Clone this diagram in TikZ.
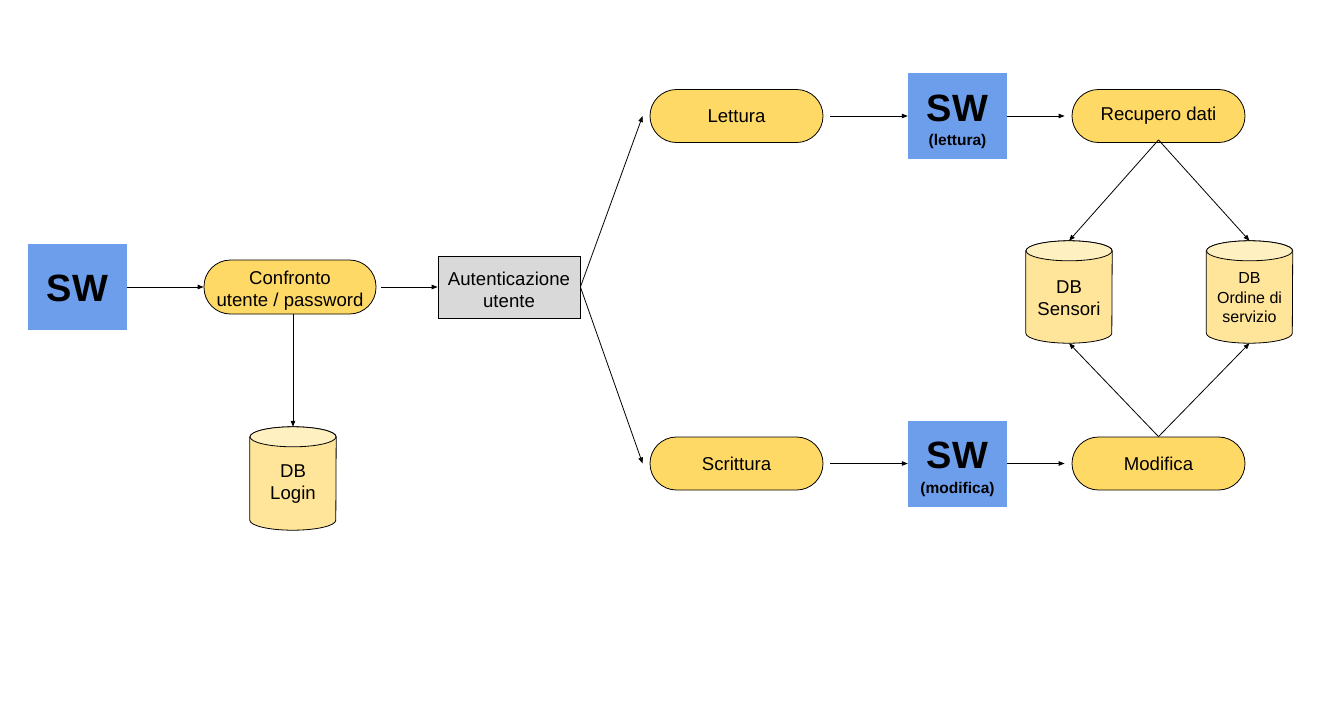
\documentclass[tikz,border=0pt]{standalone}
\usepackage{fontspec}
\setmainfont{Liberation Sans}
\usetikzlibrary{arrows.meta,calc}
\definecolor{pillY}{HTML}{FFD966}
\definecolor{dbY}{HTML}{FFE599}
\definecolor{dbTop}{HTML}{FFF0C2}
\definecolor{swB}{HTML}{6D9EEB}
\definecolor{authG}{HTML}{D9D9D9}
\newcommand\labfont{\fontsize{18.6}{22}\selectfont}
\newcommand\swfont{\fontsize{38}{40}\selectfont\bfseries}
\newcommand\subfont{\fontsize{15.5}{18}\selectfont\bfseries}
\newcommand\ordfont{\fontsize{16}{19.5}\selectfont}
\newcommand\drawcyl[1]{%
  \path[fill=dbY,draw=black,line width=0.8pt] ($(#1.north west)+(0,10)$) -- ($(#1.south west)+(0,-10)$)
    arc[start angle=180,end angle=360,x radius=43pt,y radius=10pt] -- ($(#1.north east)+(0,10)$)
    arc[start angle=0,end angle=180,x radius=43pt,y radius=10pt] -- cycle;
  \path[fill=dbTop,draw=black,line width=0.8pt] ($(#1.north)+(0,10)$) ellipse[x radius=43pt,y radius=10pt];
}
\tikzset{
  pill/.style={draw=black, line width=0.8pt, fill=pillY, rounded corners=26.5pt,
    minimum width=173pt, minimum height=53pt, inner sep=0pt, align=center, font=\labfont},
  authbox/.style={draw=black, line width=0.8pt, fill=authG, minimum width=142pt,
    minimum height=62pt, inner sep=0pt, align=center, font=\labfont},
  swbox/.style={fill=swB, draw=none, minimum width=99pt, minimum height=86pt, inner sep=0pt},
  swtext/.style={font=\swfont, inner sep=0pt},
  subtext/.style={font=\subfont, inner sep=0pt},
  dbbox/.style={draw=none, minimum width=86pt, minimum height=103pt, inner sep=0pt},
  dbtext/.style={font=\labfont, align=center, inner sep=0pt},
  conn/.style={-{Triangle[length=6pt,width=4.5pt]}, line width=0.8pt, draw=black},
}
\begin{document}
\begin{tikzpicture}[x=1pt,y=-1pt]
\useasboundingbox (0,0) rectangle (1341,718);

% left part
\node[swbox] (sw1) at (77.5,287) {};
\node[swtext] (sw1t) at ($(sw1.center)+(0,1)$) {SW};
\node[pill, minimum width=172pt, minimum height=54pt] (conf) at (290,287) {\rule{0pt}{21pt}Confronto\\utente / password};
\node[authbox] (auth) at (509,287) {\rule{0pt}{19pt}Autenticazione\\utente};
\node[dbbox] (dbl) at (293,478.5) {};
\drawcyl{dbl}
\node[dbtext] (dblt) at ($(dbl.center)+(0,6)$) {DB\\Login};

% upper row
\node[pill] (lett) at (736.5,116) {Lettura};
\node[swbox] (sw2) at (957.5,116) {};
\node[swtext] (sw2t) at ($(sw2.center)+(0,-8)$) {SW};
\node[subtext] (sw2s) at ($(sw2.center)+(0,25)$) {(lettura)};
\node[pill] (rec) at (1158.5,116) {Recupero dati};

% lower row
\node[pill] (scr) at (736.5,463.5) {Scrittura};
\node[swbox] (sw3) at (957.5,463.5) {};
\node[swtext] (sw3t) at ($(sw3.center)+(0,-8)$) {SW};
\node[subtext] (sw3s) at ($(sw3.center)+(0,26)$) {(modifica)};
\node[pill] (mod) at (1158.5,463.5) {Modifica};

% databases
\node[dbbox, minimum height=102pt] (dbs) at (1069,292) {};
\drawcyl{dbs}
\node[dbtext] (dbst) at ($(dbs.center)+(0,6)$) {DB\\Sensori};
\node[dbbox, minimum height=102pt] (dbo) at (1249.5,292) {};
\drawcyl{dbo}
\node[dbtext, font=\ordfont] (dbot) at ($(dbo.center)+(0,6)$) {DB\\Ordine di\\servizio};

% connectors
\draw[conn] (sw1.east) -- (conf.west);
\draw[conn, shorten <=5pt] (conf.east) -- (auth.west);
\draw[conn] (dbl.north |- conf.south) -- (dbl.north);
\draw[conn] (auth.east) -- ($(lett.west)+(-7,0)$);
\draw[conn] (auth.east) -- ($(scr.west)+(-7,0)$);
\draw[conn, shorten <=7pt] (lett.east) -- (sw2.west);
\draw[conn, shorten <=7pt] (scr.east) -- (sw3.west);
\draw[conn, shorten >=7pt] (sw2.east) -- (rec.west);
\draw[conn, shorten >=7pt] (sw3.east) -- (mod.west);
\draw[conn] ($(rec.south)+(0,-3)$) -- (dbs.north);
\draw[conn] ($(rec.south)+(0,-3)$) -- (dbo.north);
\draw[conn] (mod.north) -- (dbs.south);
\draw[conn] (mod.north) -- (dbo.south);
\end{tikzpicture}
\end{document}
